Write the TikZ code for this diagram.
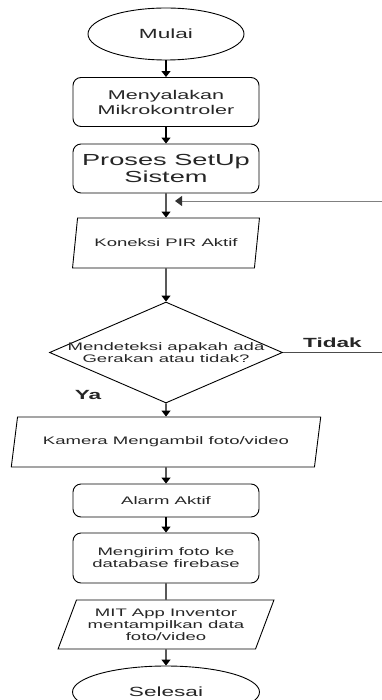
\documentclass[tikz,border=0pt]{standalone}
\usepackage{fontspec}
\setmainfont{Liberation Sans}[FakeStretch=1.7]
\usetikzlibrary{arrows,automata}
\usetikzlibrary{positioning}
\usetikzlibrary{calc}
\usetikzlibrary{shapes.geometric}
\usetikzlibrary{arrows.meta}

\newcommand{\hurufkecil}{\fontsize{10.9}{12}\selectfont}
\newcommand{\hurufsedang}{\fontsize{12.7}{15}\selectfont}
\newcommand{\hurufbesar}{\fontsize{16}{17}\selectfont}
\newcommand{\hurufujung}{\fontsize{13.3}{15}\selectfont}

\begin{document}
\begin{tikzpicture}[->,>={Triangle[length=6pt,width=9pt]},shorten >=0pt,x=1pt,y=1pt,
		line width=1.1pt]
		\tikzstyle{every node}=[text=black!85,line width=0.9pt]
		\tikzstyle{terminal}=[draw,ellipse,minimum width=156pt,minimum height=52pt,inner sep=0pt,font=\hurufujung]
		\tikzstyle{process}=[draw,rectangle,rounded corners=8pt,minimum width=186pt,align=center,inner sep=0pt]
		\tikzstyle{io}=[draw,trapezium,trapezium left angle=63,trapezium right angle=117,trapezium stretches=true,align=center,inner sep=0pt,font=\hurufkecil]
		\tikzstyle{decision}=[draw,diamond,minimum width=233pt,minimum height=101pt,inner sep=0pt]
		
		\useasboundingbox (0,0) rectangle (382,-700);
		
		\node[terminal]         (mulai) at (166,-34)                                    {Mulai};
		\node[process,minimum height=49pt,font=\hurufsedang] (nyala) [node distance=68pt,below of=mulai]   {Menyalakan\\Mikrokontroler};
		\node[process,minimum height=49pt,font=\hurufbesar]  (setup) [node distance=66.5pt,below of=nyala] {Proses SetUp\\Sistem};
		\node[io,minimum width=187pt,minimum height=50pt]    (pir)   [node distance=74.5pt,below of=setup] {Koneksi PIR Aktif};
		\node[decision,label={[align=center,font=\hurufkecil,text=black!85]center:Mendeteksi apakah ada\\Gerakan atau tidak?}] (deteksi) [node distance=109.5pt,below of=pir] {};
		\node[io,minimum width=310pt,minimum height=50pt]    (kamera) [node distance=89.5pt,below of=deteksi] {Kamera Mengambil foto/video};
		\node[process,minimum height=33pt,font=\hurufkecil]  (alarm) [node distance=58.5pt,below of=kamera] {Alarm Aktif};
		\node[process,minimum height=50pt,font=\hurufkecil]  (kirim) [node distance=57.5pt,below of=alarm]  {Mengirim foto ke\\database firebase};
		\node[io,minimum width=216pt,minimum height=49pt]    (mit)   [node distance=66.5pt,below of=kirim]  {MIT App Inventor\\mentampilkan data\\foto/video};
		\node[terminal,minimum width=187pt] (selesai) [node distance=67.5pt,below of=mit] {Selesai};
		
		\coordinate (balik) at (382,-201);
		\coordinate (masuk) at (175,-201);
		\coordinate (keluar) at ($(deteksi.east)+(99,0)$);
		\node[font=\bfseries\hurufujung] (ya) at (88,-395) {Ya};
		
		\path (mulai)  edge  (nyala)
		(nyala)  edge  (setup)
		(setup)  edge  (pir)
		(pir)    edge  (deteksi)
		(deteksi) edge (kamera)
		(kamera) edge  (alarm)
		(alarm)  edge  (kirim)
		(kirim)  edge [-] (mit)
		(mit)    edge  (selesai)
		(balik)  edge [draw=black!50,line width=0.9pt,-{Triangle[length=7pt,width=10pt,color=black!80]}] (masuk)
		(deteksi.east) edge [-,draw=black!70,line width=0.9pt] node[above,font=\bfseries\hurufujung,yshift=1pt] {Tidak} (keluar)
		;
\end{tikzpicture}
\end{document}
